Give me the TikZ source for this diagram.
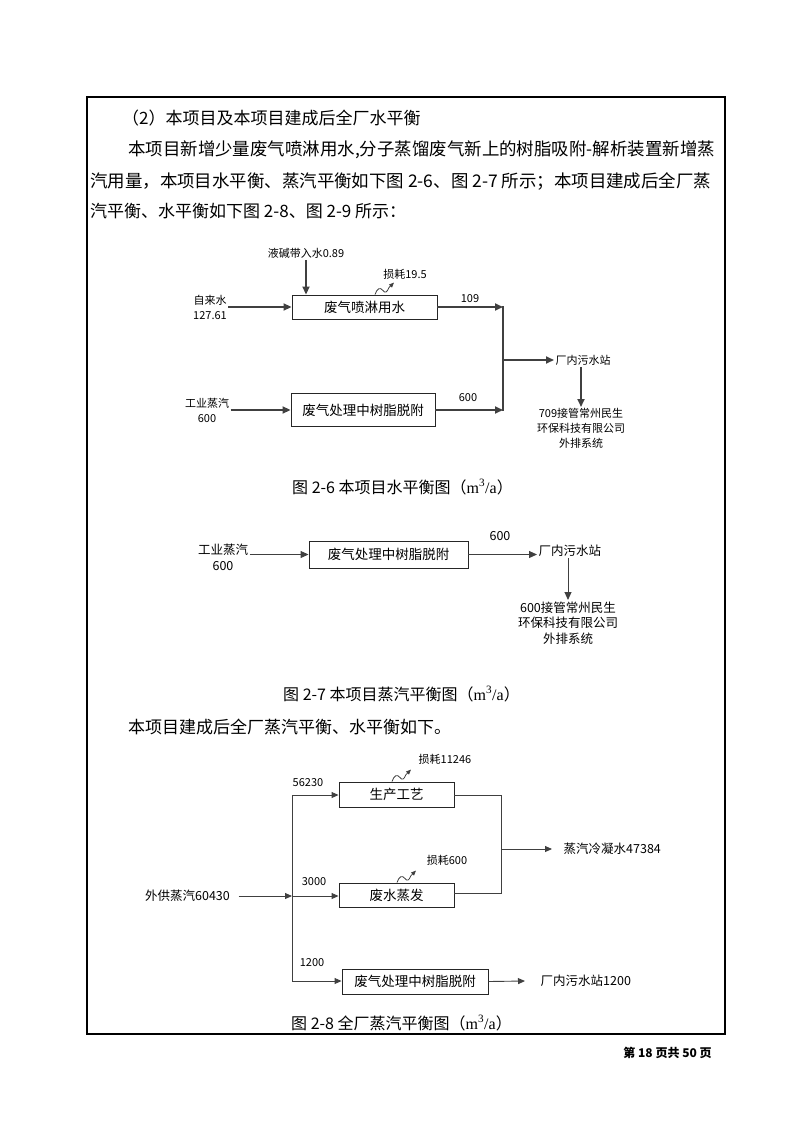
\documentclass[tikz,border=0pt]{standalone}
\usepackage{fontspec}
\setmainfont{Noto Sans CJK SC}
\newfontfamily\latinserif{Liberation Serif}
\usetikzlibrary{arrows.meta}

\newcommand\dgsmall{\fontsize{11}{15}\selectfont}
\newcommand\dgmid{\fontsize{12.5}{15.5}\selectfont}
\newcommand\dgbox{\fontsize{13.5}{14}\selectfont}
\newcommand\dgcap{\fontsize{16}{16}\selectfont}
\newcommand\cubicpa{{\latinserif m\textsuperscript{3}/a}}

\tikzset{
  body/.style={anchor=west, inner sep=0pt, font=\fontsize{17}{17}\selectfont},
  widebody/.style={body, font=\fontsize{17.45}{17}\selectfont},
  procbox/.style={draw=black!85, line width=0.9pt, inner sep=0pt, align=center},
  lbl/.style={inner sep=1.5pt, align=center},
  flowA/.style={draw=black!75, line width=1.8pt, -{Triangle[length=8pt,width=7pt]}},
  flowB/.style={draw=black!75, line width=1pt, -{Triangle[length=8pt,width=7pt]}},
  flowC/.style={draw=black!75, line width=0.9pt, -{Triangle[length=7pt,width=6pt]}},
  plainline/.style={draw=black!75, line width=0.9pt},
  lossline/.style={draw=black!75, line width=0.8pt, -{Triangle[length=5pt,width=4pt]}},
  loss/.pic={\draw[lossline] (0,0) .. controls (2,-6) and (5,-8) .. (8,-4) .. controls (10,-1) and (12,-2) .. (14,-7) -- (19,-12);},
}

\begin{document}
\begin{tikzpicture}[x=1pt,y=-1pt]
\useasboundingbox (0,0) rectangle (794,1123);

% page frame
\draw[line width=1.4pt] (87,1034) -- (87,97) -- (725,97) -- (725,1034);
\draw[line width=2.6pt] (86,1034) -- (726,1034);

% text lines
\node[body] (t1) at (122,118) {（2）本项目及本项目建成后全厂水平衡};
\node[widebody] (t2) at (128,150) {本项目新增少量废气喷淋用水,分子蒸馏废气新上的树脂吸附-解析装置新增蒸};
\node[widebody] (t3) at (90,181) {汽用量，本项目水平衡、蒸汽平衡如下图 2-6、图 2-7 所示；本项目建成后全厂蒸};
\node[body] (t4) at (90,211) {汽平衡、水平衡如下图 2-8、图 2-9 所示：};

% fig 2-6
\node[procbox, minimum width=145pt, minimum height=24pt, font=\dgbox] (spray) at (364.5,307) {废气喷淋用水};
\node[procbox, minimum width=144pt, minimum height=33pt, font=\dgbox] (resin1) at (363,410) {废气处理中树脂脱附};
\node[lbl, font=\dgsmall] (lye) at (306,253) {液碱带入水0.89};
\node[lbl, font=\dgsmall] (loss1) at (405,274) {损耗19.5};
\node[lbl, font=\dgsmall] (tap) at (210,307) {自来水\\127.61};
\node[lbl, font=\dgsmall] (steam1) at (207,410) {工业蒸汽\\600};
\node[lbl, font=\dgsmall] (v109) at (470,299) {109};
\node[lbl, font=\dgsmall] (v600a) at (468,398) {600};
\coordinate (m1) at (503,307);
\coordinate (m2) at (503,410);
\coordinate (m3) at (503,360);
\node[lbl, font=\dgsmall, anchor=west] (sta1) at (554,360) {厂内污水站};
\node[lbl, font=\dgsmall, anchor=north] (out1) at (581,407) {709接管常州民生\\环保科技有限公司\\外排系统};

\draw[flowA] (lye) -- (lye |- spray.north);
\draw[flowA] (tap) -- (spray);
\draw[flowA] (steam1) -- (resin1);
\draw[flowA] (spray) -- (m1);
\draw[flowA] (resin1) -- (m2);
\draw[draw=black!75, line width=1.8pt] ([yshift=1pt]m1) -- ([yshift=-1pt]m2);
\draw[flowA] (m3) -- (sta1);
\draw[flowA] (out1.north |- sta1.south) -- (out1.north);
\pic at ([xshift=10.5pt]spray.north) {loss};

\node[lbl, font=\dgcap] (cap1) at (402.5,487) {图 2-6 本项目水平衡图（\cubicpa）};

% fig 2-7
\node[procbox, minimum width=159pt, minimum height=27pt, font=\dgbox] (resin2) at (388.5,554.5) {废气处理中树脂脱附};
\node[lbl, font=\dgmid] (steam2) at (223,557.5) {工业蒸汽\\600};
\node[lbl, font=\dgmid] (v600b) at (500,536) {600};
\node[lbl, font=\dgmid, anchor=west] (sta2) at (537,551) {厂内污水站};
\node[lbl, font=\dgmid, anchor=north] (out2) at (568,600) {600接管常州民生\\环保科技有限公司\\外排系统};

\draw[flowB] (steam2.east |- resin2) -- (resin2.west);
\draw[flowB] (resin2.east) -- (sta2.west |- resin2);
\draw[flowB] (out2.north |- sta2.south) -- (out2.north);

\node[lbl, font=\dgcap] (cap2) at (401.5,694) {图 2-7 本项目蒸汽平衡图（\cubicpa）};

\node[body] (t5) at (128,727) {本项目建成后全厂蒸汽平衡、水平衡如下。};

% fig 2-8
\node[procbox, minimum width=115pt, minimum height=25pt, font=\dgbox] (proc) at (396.5,794.5) {生产工艺};
\node[procbox, minimum width=115pt, minimum height=24pt, font=\dgbox] (evap) at (396.5,895) {废水蒸发};
\node[procbox, minimum width=146pt, minimum height=25pt, font=\dgbox] (resin3) at (415,981.5) {废气处理中树脂脱附};
\node[lbl, font=\dgmid] (feed) at (187.5,896) {外供蒸汽60430};
\node[lbl, font=\dgsmall] (v56230) at (308,783) {56230};
\node[lbl, font=\dgsmall] (v3000) at (314,882) {3000};
\node[lbl, font=\dgsmall] (v1200) at (312,963) {1200};
\node[lbl, font=\dgsmall] (loss2) at (445,759) {损耗11246};
\node[lbl, font=\dgsmall] (loss3) at (447,860) {损耗600};
\node[lbl, font=\dgmid, anchor=west] (cond) at (562,849) {蒸汽冷凝水47384};
\node[lbl, font=\dgmid, anchor=west] (sta3) at (539,981) {厂内污水站1200};
\coordinate (s0) at (292,896);
\coordinate (s1) at (292,795);
\coordinate (s3) at (292,981);
\coordinate (c1) at (501,795);
\coordinate (c2) at (501,893);
\coordinate (c0) at (501,849);

\draw[flowC] ([xshift=7pt]feed.east) -- (s0);
\draw[plainline] (s1) -- (s3);
\draw[flowC] (s1) -- (s1 -| proc.west);
\draw[flowC] (s0) -- (s0 -| evap.west);
\draw[flowC] (s3) -- (s3 -| resin3.west);
\draw[plainline] (proc.east |- c1) -- (c1) -- (c2) -- (c2 -| evap.east);
\draw[flowC] (c0) -- ([xshift=-10pt]cond.west);
\draw[flowC] (resin3.east) -- ([xshift=-14pt]sta3.west);
\pic at ([xshift=-4.5pt]proc.north) {loss};
\pic at ([xshift=0.5pt]evap.north) {loss};

\node[lbl, font=\dgcap] (cap3) at (401.5,1023) {图 2-8 全厂蒸汽平衡图（\cubicpa）};

% footer
\node[lbl, font=\fontsize{12}{12}\selectfont\bfseries] (foot) at (667.5,1053) {第 18 页共 50 页};
\end{tikzpicture}
\end{document}
